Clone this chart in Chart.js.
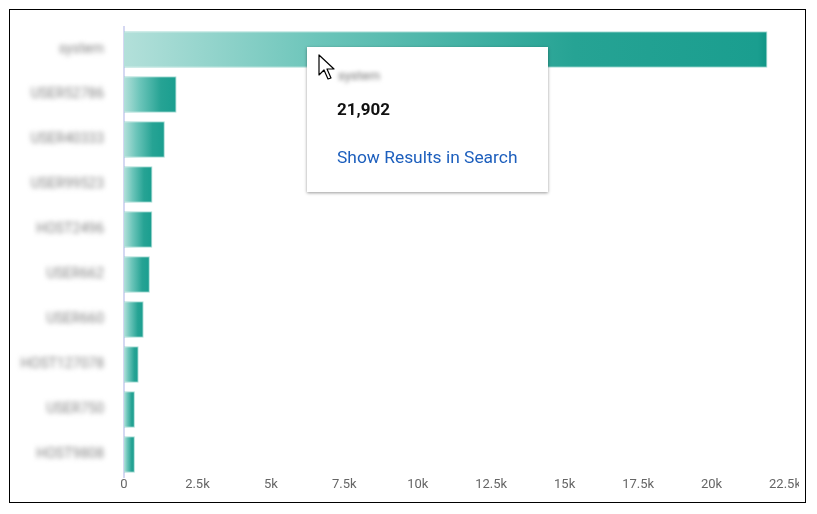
<!DOCTYPE html>
<html>
<head>
<meta charset="utf-8">
<script src="https://cdn.jsdelivr.net/npm/chart.js@4/dist/chart.umd.min.js"></script>
<style>
  body { margin: 0; background: #fff; font-family: Roboto, sans-serif; }
  .frame { position: absolute; left: 9px; top: 9px; width: 797px; height: 494px; border: 1px solid #000; box-sizing: border-box; }
  .clip { position: absolute; left: 10px; top: 10px; width: 789px; height: 492px; overflow: hidden; }
  .wrap { position: absolute; left: 0; top: 0; width: 820px; height: 492px; }
  .tip { position: absolute; left: 307px; top: 47px; width: 241px; height: 145px; background: #fff;
         box-shadow: 0 1px 3px rgba(0,0,0,0.4); }
  .tip .title { position: absolute; left: 31px; top: 21px; font-size: 13px; color: #777; filter: blur(2px); }
  .tip .value { position: absolute; left: 30px; top: 52px; font-size: 17px; font-weight: bold; color: #111; }
  .tip .link { position: absolute; left: 30px; top: 100px; font-size: 17.4px; color: #1d5fbd; }
  .cursor { position: absolute; left: 318px; top: 54px; }
</style>
</head>
<body>
<div class="frame"></div>
<div class="clip"><div class="wrap"><canvas id="chart"></canvas></div></div>
<div class="tip">
  <div class="title" id="tipTitle"></div>
  <div class="value" id="tipValue"></div>
  <div class="link">Show Results in Search</div>
</div>
<svg class="cursor" width="20" height="28" viewBox="0 0 20 28">
  <path d="M1 1 L1 21 L6 16 L10 25 L13 24 L9 15 L16 15 Z" fill="#fff" stroke="#000" stroke-width="1.2" stroke-linejoin="round"/>
</svg>
<script>
const categories = ["system", "USER52786", "USER40333", "USER99523", "HOST2496",
  "USER662", "USER660", "HOST127078", "USER750", "HOST9808"];
const counts = [21902, 1790, 1390, 970, 965, 880, 670, 500, 370, 370];
const xTicks = [0, 2500, 5000, 7500, 10000, 12500, 15000, 17500, 20000, 22500];

document.getElementById("tipTitle").textContent = categories[0];
document.getElementById("tipValue").textContent = counts[0].toLocaleString("en-US");

// blur the y labels like the reference (names are masked)
const blurLabels = {
  id: "blurLabels",
  beforeDraw(chart) {
    const s = chart.scales.y;
    if (!s || s._blurred) return;
    const orig = s.drawLabels.bind(s);
    s.drawLabels = (area) => {
      const ctx = chart.ctx;
      ctx.save();
      ctx.filter = "blur(2.5px)";
      orig(area);
      ctx.restore();
    };
    s._blurred = true;
  },
};

const barFill = (ctx) => {
  const { chart } = ctx;
  if (!chart.chartArea || ctx.type !== "data") return "#1a9e8f";
  const x = chart.scales.x;
  const x0 = x.getPixelForValue(0);
  const x1 = x.getPixelForValue(ctx.raw);
  const g = chart.ctx.createLinearGradient(x0, 0, x1, 0);
  g.addColorStop(0, "#b3e0da");
  g.addColorStop(0.3, "#6cc5ba");
  g.addColorStop(0.7, "#26a394");
  g.addColorStop(0.985, "#1a9e8f");
  g.addColorStop(1, "#0f9585");
  return g;
};

new Chart(document.getElementById("chart"), {
  type: "bar",
  data: {
    labels: categories,
    datasets: [{
      data: counts,
      backgroundColor: barFill,
      borderColor: "rgba(150,212,204,0.8)",
      borderWidth: 1,
      borderSkipped: "start",
      categoryPercentage: 0.9,
      barPercentage: 0.9,
    }],
  },
  plugins: [blurLabels],
  options: {
    indexAxis: "y",
    responsive: true,
    maintainAspectRatio: false,
    animation: false,
    layout: { padding: { top: 17, right: 45, bottom: 10, left: 0 } },
    plugins: { legend: { display: false }, tooltip: { enabled: false } },
    scales: {
      x: {
        min: 0,
        max: 22500,
        afterBuildTicks: (s) => { s.ticks = xTicks.map((v) => ({ value: v })); },
        afterFit: (s) => { s.height = 15; },
        grid: { display: false, drawTicks: false },
        border: { display: false },
        ticks: {
          padding: 0,
          color: "#666",
          font: { family: "Roboto", size: 13 },
          maxRotation: 0,
          autoSkip: false,
          callback: (v) => (v === 0 ? "0" : v / 1000 + "k"),
        },
      },
      y: {
        afterFit: (s) => { s.width = 114; s.paddingTop = 0; s.paddingBottom = 0; },
        grid: { display: false, drawTicks: false },
        border: { display: true, color: "#d5d8f2", width: 2 },
        ticks: {
          padding: 20,
          color: "#858585",
          font: { family: "Roboto", size: 14 },
        },
      },
    },
  },
});
</script>
</body>
</html>
